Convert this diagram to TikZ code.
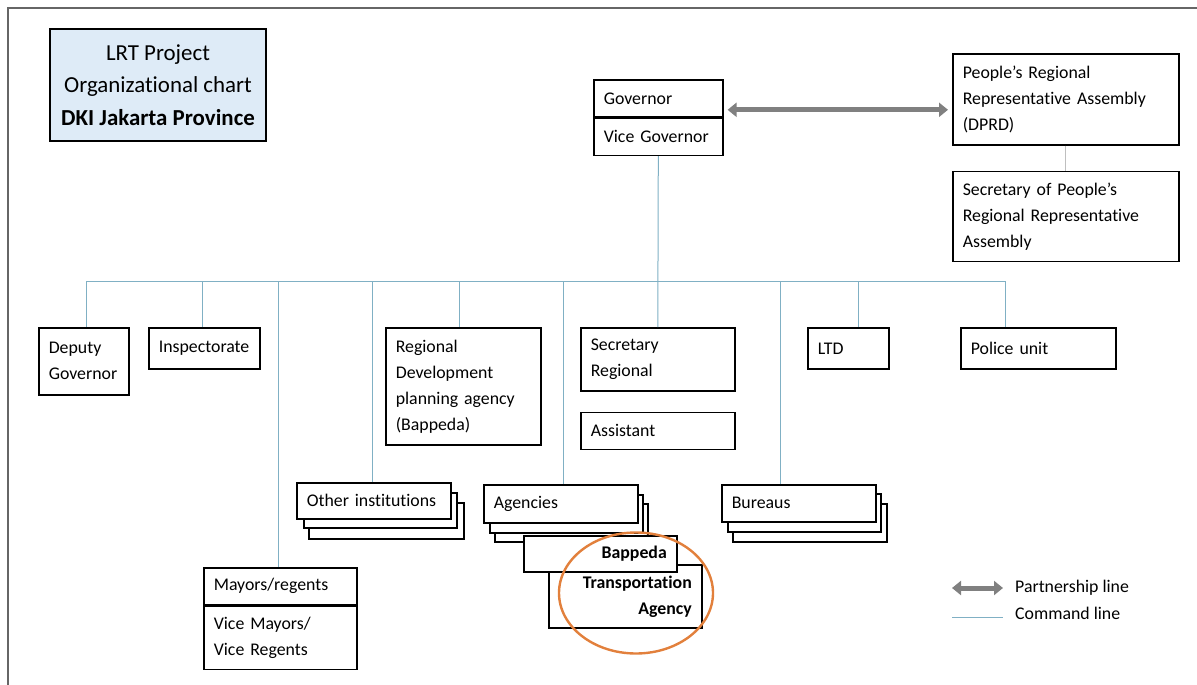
\documentclass[tikz,border=0pt]{standalone}
\usepackage{fontspec}
\setmainfont{Carlito}[RawFeature={-liga;-clig;-calt;-dlig}]
\usetikzlibrary{arrows.meta,positioning,shapes.geometric}

\definecolor{titleblue}{RGB}{222,235,247}
\definecolor{cmdblue}{RGB}{128,176,196}
\definecolor{ringorange}{RGB}{226,128,60}

\begin{document}
\begin{tikzpicture}[
		x=1pt, y=-1pt,
		node distance=20pt,
		font=\fontsize{17.8}{26}\selectfont,
		orgbox/.style={draw, line width=1.6pt, fill=white, anchor=north west, align=left, inner xsep=10pt, inner ysep=0pt, text width=#1},
		rightbox/.style={orgbox=#1, align=right, font=\fontsize{17.8}{26}\selectfont\bfseries},
		stackbox/.style={draw, line width=1.6pt, fill=white, anchor=north west, inner sep=0pt},
		titlebox/.style={draw, line width=1.6pt, fill=titleblue, align=center, minimum width=216pt, minimum height=112pt, font=\fontsize{22.9}{32.5}\selectfont},
		cmd/.style={draw=cmdblue, line width=1pt},
		partner/.style={draw=gray, line width=5pt, {Triangle[length=9pt,width=14pt]}-{Triangle[length=9pt,width=14pt]}},
		ring/.style={draw=ringorange, line width=2.4pt, ellipse, inner sep=0pt},
	]
		\useasboundingbox (0,0) rectangle (1197,685);
		\draw[gray!80!black, line width=1.5pt] (8,685) -- (8,8) -- (1197,8);

		\node (title) [titlebox] at (158,85) {LRT Project\\Organizational chart\\\textbf{DKI Jakarta Province}};

		% top of the chart
		\node (gov) [orgbox=109pt, minimum height=37pt] at (593,79) {Governor};
		\node (vicegov) [orgbox=109pt, minimum height=37pt, below=0pt of gov] {Vice Governor};
		\node (dprd) [orgbox=206pt, minimum height=91pt] at (952,53) {People’s Regional\\Representative Assembly\\(DPRD)};
		\node (secdprd) [orgbox=206pt, minimum height=90pt, below=25pt of dprd] {Secretary of People’s\\Regional Representative\\Assembly};

		% first row
		\node (deputy) [orgbox=70pt, minimum height=67pt] at (38,327) {Deputy\\Governor};
		\node (inspect) [orgbox=91pt, minimum height=41pt] at (148,327) {Inspectorate};
		\node (regdev) [orgbox=135pt, minimum height=117pt] at (385,327) {Regional\\Development\\planning agency\\(Bappeda)};
		\node (secreg) [orgbox=134pt, minimum height=63pt] at (580,327) {Secretary\\Regional};
		\node (assist) [orgbox=134pt, minimum height=37pt, below=of secreg] {Assistant};
		\node (ltd) [orgbox=61pt, minimum height=41pt] at (807,327) {LTD};
		\node (police) [orgbox=135pt, minimum height=41pt] at (960,327) {Police unit};

		% stacked boxes
		\node (other3) [stackbox, minimum width=155pt, minimum height=36pt] at (308,502) {};
		\node (other2) [stackbox, minimum width=153pt, minimum height=35pt] at (303,492) {};
		\node (other) [orgbox=134pt, minimum height=36pt] at (296,482) {Other institutions};

		\node (agency3) [stackbox, minimum width=153pt, minimum height=38pt] at (494,503) {};
		\node (agency2) [stackbox, minimum width=153pt, minimum height=38pt] at (489,494) {};
		\node (agencies) [orgbox=134pt, minimum height=38pt] at (483,484) {Agencies};
		\node (transport) [rightbox=133pt, minimum height=63pt] at (548,564) {Transportation\\Agency};
		\node (bappeda) [rightbox=133pt, minimum height=36pt] at (523,535) {Bappeda};
		\node (ring) [ring, minimum width=154pt, minimum height=121pt] at (636,593) {};

		\node (bureau3) [stackbox, minimum width=154pt, minimum height=38pt] at (732,503) {};
		\node (bureau2) [stackbox, minimum width=153pt, minimum height=38pt] at (727,493) {};
		\node (bureaus) [orgbox=134pt, minimum height=37pt] at (721,484) {Bureaus};

		\node (mayors) [orgbox=133pt, minimum height=37pt] at (203,567) {Mayors/regents};
		\node (vicemayors) [orgbox=133pt, minimum height=63pt, below=0pt of mayors] {Vice Mayors/\\Vice Regents};

		% command lines
		\coordinate (bus) at (0,281);
		\draw[cmd] (vicegov.south) -- (secreg.north);
		\draw[cmd] ([xshift=3pt]deputy.north |- bus) -- ([xshift=-33pt]police.north |- bus);
		\foreach \n/\dx in {deputy/3, inspect/-1.5, mayors/-2, other/-1, regdev/-4, agencies/3, ltd/10, police/-33, bureaus/-18}
			\draw[cmd] ([xshift=\dx pt]\n.north) -- ([xshift=\dx pt]\n.north |- bus);
		\draw[draw=gray!50, line width=1pt] (dprd.south) -- (secdprd.north);

		% partnership
		\draw[partner, shorten <=4pt, shorten >=4pt] ([yshift=-11.5pt]gov.east) -- ([yshift=-11.5pt]gov.east -| dprd.west);

		% legend
		\node (legpart) [anchor=west, inner sep=0pt] at (1015,588) {Partnership line};
		\node (legcmd) [anchor=west, inner sep=0pt] at (1015,613) {Command line};
		\draw[partner] ([xshift=-63pt]legpart.west) -- ([xshift=-12pt]legpart.west);
		\draw[cmd] ([xshift=-63pt,yshift=-4pt]legcmd.west) -- ([xshift=-12pt,yshift=-4pt]legcmd.west);
	\end{tikzpicture}
\end{document}
